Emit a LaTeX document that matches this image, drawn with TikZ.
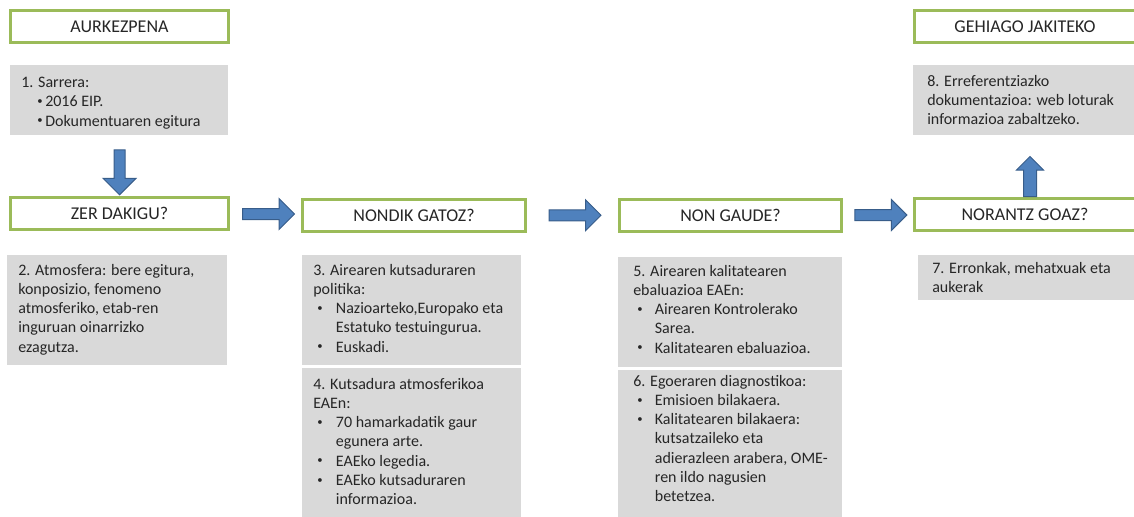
\documentclass[tikz,border=0pt]{standalone}
\usepackage{fontspec}
\setmainfont{Carlito}
\usetikzlibrary{shapes.arrows, calc}

\definecolor{hdgreen}{RGB}{155,187,89}
\definecolor{panelgray}{RGB}{217,217,217}
\definecolor{arrblue}{RGB}{79,129,189}
\definecolor{arrline}{RGB}{56,93,138}
\definecolor{txtdark}{RGB}{38,38,38}

% small bullet, bullet column and continuation indent for the list lines
\newcommand{\dotmark}{\raisebox{0.3ex}{\fontsize{8}{8}\selectfont\textbullet}}
\newcommand{\bul}[1][17pt]{\makebox[#1][l]{\hspace{3pt}\dotmark}}
\newcommand{\cont}[1][17pt]{\hspace*{#1}}

\begin{document}
\begin{tikzpicture}[
  x=0.75pt, y=-0.75pt,
  every node/.style={text=txtdark},
  % Styles
  head/.style={rectangle, draw=hdgreen, line width=2.25pt, fill=white, minimum width=164pt, minimum height=24pt, inner sep=0pt, font=\fontsize{13.5}{16}\selectfont},
  panel/.style={rectangle, fill=panelgray, anchor=north west, inner sep=0pt},
  body/.style={anchor=north west, align=left, inner sep=0pt, font=\fontsize{12}{14.4}\selectfont},
  blk/.style={single arrow, draw=arrline, fill=arrblue, line width=0.75pt, inner sep=3.75pt, single arrow head extend=7.5pt, minimum width=22.5pt, minimum height=39pt},
]
  \useasboundingbox (0,0) rectangle (1134,517);
  \clip (0,0) rectangle (1134,517);

  % ── HEADINGS ──────────────────────────────────────────────
  \node[head] (aurk) at (119.5,26.5) {AURKEZPENA};
  \node[head] (zer) at (119.5,213) {ZER DAKIGU?};
  \node[head, minimum width=167pt] (nondik) at (414,215) {NONDIK GATOZ?};
  \node[head, minimum width=167pt] (non) at (730.5,215.5) {NON GAUDE?};
  \node[head, minimum width=166pt] (norantz) at (1025,214.5) {NORANTZ GOAZ?};
  \node[head, minimum width=166pt] (gehiago) at (1025,26.5) {GEHIAGO JAKITEKO};

  % ── GREY PANELS ───────────────────────────────────────────
  \node[panel, minimum width=163.5pt, minimum height=52.5pt] (p1) at (10,65) {};
  \node[panel, minimum width=165pt, minimum height=82.5pt] (p2) at (7,255) {};
  \node[panel, minimum width=164.25pt, minimum height=82.5pt] (p3) at (302,255) {};
  \node[panel, minimum width=164.25pt, minimum height=120pt] (p4) at (302,368) {};
  \node[panel, minimum width=168pt, minimum height=82.5pt] (p5) at (618,257) {};
  \node[panel, minimum width=168pt, minimum height=120pt] (p6) at (618,370) {};
  \node[panel, minimum width=172.5pt, minimum height=33.75pt] (p7) at (918,255) {};
  \node[panel, minimum width=172.5pt, minimum height=52.5pt] (p8) at (913,65) {};

  % Panel texts
  \node[body] (t1) at ([xshift=8.25pt, yshift=-9pt]p1.north west) {1. Sarrera:\\
    \hspace*{12pt}\makebox[6pt][l]{\dotmark}2016 EIP.\\
    \hspace*{12pt}\makebox[6pt][l]{\dotmark}Dokumentuaren egitura};
  \node[body] (t2) at ([xshift=8.25pt, yshift=-6.75pt]p2.north west) {2. Atmosfera: bere egitura,\\
    konposizio, fenomeno\\atmosferiko, etab-ren\\inguruan oinarrizko\\ezagutza.};
  \node[body] (t3) at ([xshift=8.25pt, yshift=-6.75pt]p3.north west) {3. Airearen kutsaduraren\\politika:\\
    \bul Nazioarteko,Europako eta\\\cont Estatuko testuingurua.\\
    \bul Euskadi.};
  \node[body] (t4) at ([xshift=8.25pt, yshift=-7.5pt]p4.north west) {4. Kutsadura atmosferikoa\\EAEn:\\
    \bul 70 hamarkadatik gaur\\\cont egunera arte.\\
    \bul EAEko legedia.\\
    \bul EAEko kutsaduraren\\\cont informazioa.};
  \node[body] (t5) at ([xshift=11.25pt, yshift=-6pt]p5.north west) {5. Airearen kalitatearen\\ebaluazioa EAEn:\\
    \bul[13.5pt] Airearen Kontrolerako\\\cont[13.5pt] Sarea.\\
    \bul[13.5pt] Kalitatearen ebaluazioa.};
  \node[body] (t6) at ([xshift=11.25pt, yshift=-3.75pt]p6.north west) {6. Egoeraren diagnostikoa:\\
    \bul[13.5pt] Emisioen bilakaera.\\
    \bul[13.5pt] Kalitatearen bilakaera:\\\cont[13.5pt] kutsatzaileko eta\\
    \cont[13.5pt] adierazleen arabera, OME-\\\cont[13.5pt] ren ildo nagusien\\\cont[13.5pt] betetzea.};
  \node[body] (t7) at ([xshift=10.5pt, yshift=-5.25pt]p7.north west) {7. Erronkak, mehatxuak eta\\aukerak};
  \node[body] (t8) at ([xshift=10.5pt, yshift=-7.5pt]p8.north west) {8. Erreferentziazko\\
    dokumentazioa: web loturak\\informazioa zabaltzeko.};

  % ── BLOCK ARROWS ──────────────────────────────────────────
  \node[blk, shape border rotate=270, minimum height=33.75pt, minimum width=24pt, single arrow head extend=8.25pt, anchor=tip] (adown) at (zer.north) {};
  \node[blk] (ar1) at ($(zer.east)!0.5!(nondik.west)$) {};
  \node[blk] (ar2) at ($(nondik.east)!0.5!(non.west)$) {};
  \node[blk] (ar3) at ($(non.east)!0.5!(norantz.west)$) {};
  \node[blk, shape border rotate=90, inner sep=4.5pt, minimum height=30pt, minimum width=19.5pt, single arrow head extend=5.25pt, anchor=tail] (aup) at ([xshift=3.75pt]norantz.north) {};

\end{tikzpicture}
\end{document}
